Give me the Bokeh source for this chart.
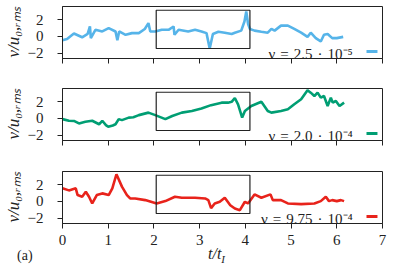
from bokeh.plotting import figure
from bokeh.layouts import column
from bokeh.models import FixedTicker, Label, Div
from bokeh.embed import file_html
from bokeh.resources import INLINE

# ---- data ----
t_blue = [0.0, 0.1, 0.25, 0.43, 0.55, 0.6, 0.62, 0.72, 0.87, 1.01, 1.16, 1.2, 1.24, 1.38, 1.52, 1.67,
          1.8, 1.88, 1.92, 2.03, 2.17, 2.32, 2.43, 2.45, 2.54, 2.75, 2.9, 3.04, 3.15, 3.22, 3.29, 3.41,
          3.55, 3.7, 3.77, 3.91, 3.98, 4.02, 4.06, 4.1, 4.2, 4.35, 4.49, 4.57, 4.64, 4.78, 4.93, 5.07,
          5.22, 5.36, 5.43, 5.54, 5.65, 5.72, 5.8, 5.9, 6.0, 6.14]
v_blue = [-0.45, -0.3, 0.36, -0.1, 0.3, 1.2, -0.2, 0.8, 0.6, 1.0, 0.6, -0.45, 0.6, 0.2, 0.4, 0.4,
          0.9, 1.6, 0.6, 0.6, 0.8, 0.8, 1.2, 0.2, 0.8, 0.6, 0.8, 0.6, 0.4, -1.45, 0.3, 0.57,
          0.45, 0.3, 0.45, 0.7, 1.8, 3.0, 1.5, 0.9, 0.7, 0.57, 0.45, 0.9, 0.7, 1.3, 1.3, 0.9,
          0.45, -0.05, 0.45, -0.2, -0.6, 0.2, 0.3, -0.2, -0.2, -0.05]

t_green = [0.0, 0.14, 0.25, 0.36, 0.5, 0.65, 0.8, 0.87, 0.95, 1.0, 1.1, 1.16, 1.23, 1.3, 1.45, 1.55,
           1.67, 1.88, 2.03, 2.25, 2.4, 2.61, 2.83, 3.04, 3.25, 3.48, 3.62, 3.7, 3.77, 3.84, 3.93, 3.99,
           4.13, 4.35, 4.49, 4.57, 4.78, 4.93, 5.07, 5.22, 5.36, 5.43, 5.51, 5.58, 5.65, 5.72, 5.8,
           5.87, 5.91, 5.98, 6.06, 6.16]
v_green = [-0.08, -0.28, -0.3, -0.6, -0.4, -0.28, -0.7, -0.28, -0.8, -1.0, -0.85, -0.7, -0.08, -0.2, 0.1, 0.15,
           0.4, 0.7, 0.4, -0.08, 0.3, 0.7, 0.9, 1.2, 1.6, 1.9, 1.9, 2.0, 2.46, 1.7, 0.1, 0.9,
           1.5, 2.0, 0.9, 0.7, 0.9, 1.1, 1.7, 2.3, 3.4, 3.1, 2.7, 3.1, 2.5, 2.7, 1.5,
           2.5, 1.9, 2.1, 1.5, 1.9]

t_red = [0.0, 0.14, 0.29, 0.33, 0.43, 0.51, 0.58, 0.65, 0.75, 0.87, 1.01, 1.09, 1.18, 1.3, 1.41, 1.48,
         1.59, 1.81, 2.06, 2.25, 2.46, 2.61, 2.9, 3.12, 3.19, 3.25, 3.33, 3.44, 3.55, 3.67, 3.77, 3.88,
         3.99, 4.06, 4.2, 4.35, 4.55, 4.6, 4.78, 4.93, 5.22, 5.51, 5.65, 5.76, 5.83, 5.9, 6.0, 6.09, 6.16]
v_red = [1.58, 1.33, 1.58, 0.77, 0.57, 1.17, 0.57, -0.24, 0.77, 0.97, 0.77, 1.58, 3.27, 1.78, 0.77, 0.36,
         0.36, 0.16, -0.24, 0.04, 0.57, 0.45, 0.45, 0.36, 0.16, -0.8, -0.24, -0.04, 0.45, -0.45, -0.85, -1.05,
         -0.04, -0.24, 0.85, 0.45, 0.85, 0.16, 0.16, -0.24, -0.32, -0.24, 0.04, 0.57, 0.04, 0.16, 0.04, 0.16, 0.04]

legend_labels = ["ν\u2004=\u20042.5\u2004·\u200410⁻⁵",
                 "ν\u2004=\u20042.0\u2004·\u200410⁻⁴",
                 "ν\u2004=\u20049.75\u2004·\u200410⁻⁴"]
colors = ["#56B4E9", "#009E73", "#E8231B"]
x_ticks = [0, 1, 2, 3, 4, 5, 6, 7]
y_ticks = [-2, 0, 2]
box_t = [2.05, 4.1]
box_v = [-1.45, 3.15]

series = [(t_blue, v_blue), (t_green, v_green), (t_red, v_red)]

SERIF = "Liberation Serif"
INK = "#222222"
W = 391
FRAME_H = 52
heights = [82, 83, 88]

figs = []
for i, ((t, v), col, lab) in enumerate(zip(series, colors, legend_labels)):
    last = i == 2
    h = heights[i]
    p = figure(width=W, height=h, output_backend="svg", toolbar_location=None,
               x_range=(0, 7), y_range=(-2.65, 3.6),
               min_border_left=60, min_border_right=9, min_border_top=6,
               min_border_bottom=(h - 6 - FRAME_H))
    p.outline_line_color = INK
    p.outline_line_width = 1
    p.grid.visible = False

    p.xaxis.ticker = FixedTicker(ticks=x_ticks)
    p.yaxis.ticker = FixedTicker(ticks=y_ticks)
    p.yaxis.major_label_overrides = {k: ("−%d" % -k if k < 0 else "%d" % k) for k in y_ticks}
    if not last:
        p.xaxis.major_label_overrides = {k: "" for k in x_ticks}
    for ax in (p.xaxis[0], p.yaxis[0]):
        ax.axis_line_color = INK
        ax.major_tick_line_color = INK
        ax.minor_tick_line_color = None
        ax.major_tick_in = 0
        ax.major_tick_out = 5
        ax.major_label_text_font = SERIF
        ax.major_label_text_font_size = "15px"
        ax.major_label_text_color = INK
    p.xaxis.major_label_standoff = 6
    p.yaxis.major_label_standoff = 14
    p.yaxis.axis_label = "v/u₀,ᵣₘₛ"
    p.yaxis.axis_label_text_font = SERIF
    p.yaxis.axis_label_text_font_style = "italic"
    p.yaxis.axis_label_text_font_size = "17px"
    p.yaxis.axis_label_text_color = INK
    p.yaxis.axis_label_standoff = 2

    p.line(t, v, line_color=col, line_width=2.6)
    p.quad(left=box_t[0], right=box_t[1], bottom=box_v[0], top=box_v[1],
           fill_alpha=0, line_color=INK, line_width=1.2)

    # legend: text, then a short sample line to its right
    p.add_layout(Label(x=6.35, y=-2.05, text=lab, text_align="right",
                       text_baseline="alphabetic", text_font=SERIF,
                       text_font_size="15px", text_color=INK))
    p.line([6.65, 6.89], [-1.8, -1.8], line_color=col, line_width=3)
    figs.append(p)

caption = Div(width=W, height=24, margin=(-14, 0, 0, 0), text=(
    '<div style="position:relative;width:391px;height:24px;font-family:\'Liberation Serif\';color:#222;">'
    '<span style="position:absolute;left:17px;top:10px;font-size:14px;line-height:14px;">(a)</span>'
    '<span style="position:absolute;left:208px;top:7px;font-size:16px;line-height:16px;font-style:italic;">'
    't/t<sub style="font-size:11px;line-height:0;">I</sub></span></div>'))

layout = column(*figs, caption, spacing=0)
open("out.html", "w").write(file_html(layout, INLINE))
